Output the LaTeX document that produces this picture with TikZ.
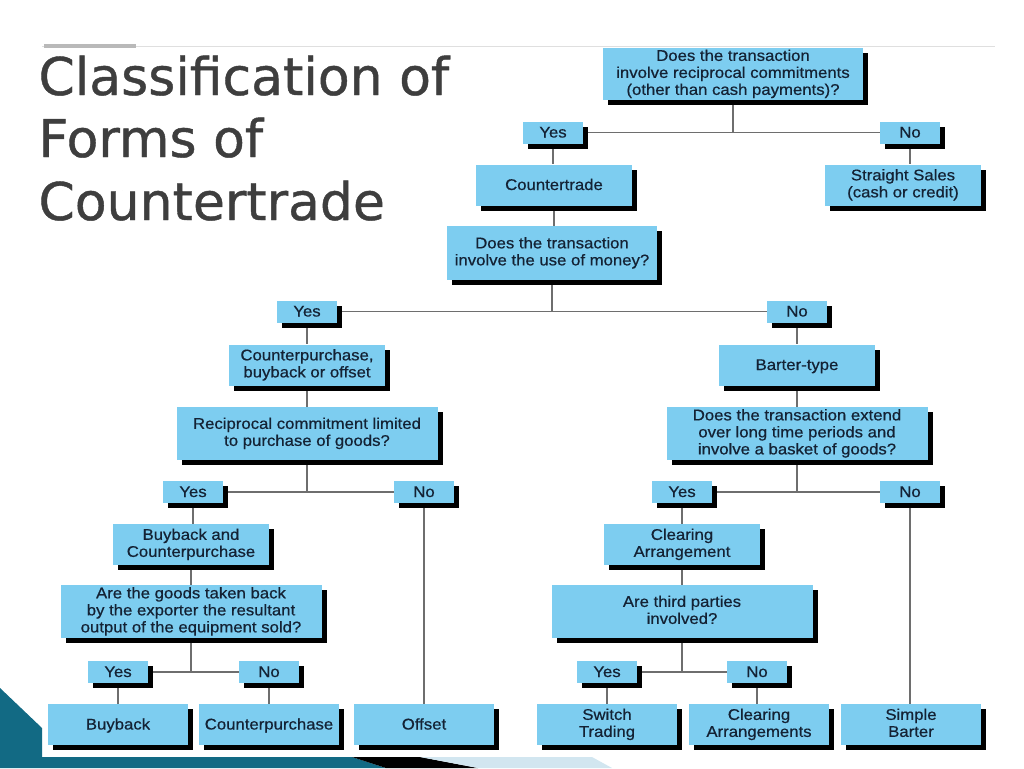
\documentclass[tikz,border=0pt]{standalone}
\usepackage{fontspec}
\setmainfont{Liberation Sans}
\newfontfamily\boxfont{Liberation Sans}[FakeStretch=1.08, FakeBold=0.6]
\newfontfamily\titlefont{DejaVu Sans}[FakeBold=0.8]
\usetikzlibrary{shadows,backgrounds}
\definecolor{boxblue}{RGB}{125,205,240}
\definecolor{boxtext}{RGB}{20,34,52}
\definecolor{linkgray}{RGB}{110,110,110}
\definecolor{titlegray}{RGB}{62,62,62}
\definecolor{themeteal}{RGB}{18,106,132}
\definecolor{paleblue}{RGB}{210,230,240}
\begin{document}
\begin{tikzpicture}[x=1pt,y=-1pt,
  qbox/.style={fill=boxblue, text=boxtext, align=center, inner sep=0pt,
    font=\boxfont\fontsize{15.5}{17}\selectfont,
    execute at begin node=\rule{0pt}{13.5pt}, execute at end node=\rule[-3.5pt]{0pt}{3.5pt},
    drop shadow={shadow xshift=5pt, shadow yshift=-5pt, fill=black, opacity=1}},
  ans/.style={qbox, minimum width=60pt, minimum height=22pt},
  mid/.style={qbox, minimum width=156pt, minimum height=41pt},
  big/.style={qbox, minimum width=261pt, minimum height=53pt},
  leaf/.style={qbox, minimum width=140pt, minimum height=41pt},
  title/.style={anchor=base west, text=titlegray, font=\titlefont\fontsize{52}{63}\selectfont},
  link/.style={draw=linkgray, line width=1.4pt}]
\useasboundingbox (0,0) rectangle (1024,768);

% slide frame
\draw[gray!25, line width=1pt] (42,47) -- (995,47);
\fill[gray!55] (44,44) rectangle (136,48);
\fill[themeteal] (0,688) -- (42,728) -- (42,757) -- (352,757) -- (386,768) -- (0,768) -- cycle;
\fill[black] (352,757) -- (420,757) -- (478,768) -- (386,768) -- cycle;
\fill[paleblue] (420,757) -- (592,757) -- (612,768) -- (478,768) -- cycle;

% title
\node[title] (t1) at (35,95) {Classification of};
\node[title] (t2) at (35,157) {Forms of};
\node[title] (t3) at (35,220) {Countertrade};

% questions and answers
\node[qbox, minimum width=260pt, minimum height=52pt] (q1) at (733,74) {Does the transaction\\involve reciprocal commitments\\(other than cash payments)?};
\node[ans] (yes1) at (553,132.5) {Yes};
\node[ans] (no1) at (910,132.5) {No};
\node[mid] (ct) at (554,185) {Countertrade};
\node[mid] (ss) at (903,185) {Straight Sales\\(cash or credit)};
\node[qbox, minimum width=210pt, minimum height=54pt] (q2) at (552,253) {Does the transaction\\involve the use of money?};
\node[ans] (yes2) at (307,311.5) {Yes};
\node[ans] (no2) at (797,311.5) {No};
\node[mid] (cbo) at (307,365) {Counterpurchase,\\buyback or offset};
\node[mid] (bt) at (797,365) {Barter-type};
\node[big] (q3) at (307,433.5) {Reciprocal commitment limited\\to purchase of goods?};
\node[big] (q4) at (797,433.5) {Does the transaction extend\\over long time periods and\\involve a basket of goods?};
\node[ans] (yes3) at (193,492) {Yes};
\node[ans] (no3) at (424,492) {No};
\node[ans] (yes4) at (682,492) {Yes};
\node[ans] (no4) at (910,492) {No};
\node[mid] (bc) at (191,544.5) {Buyback and\\Counterpurchase};
\node[mid] (ca) at (682,544.5) {Clearing\\Arrangement};
\node[big] (q5) at (191,611.5) {Are the goods taken back\\by the exporter the resultant\\output of the equipment sold?};
\node[big] (q6) at (682,611.5) {Are third parties\\involved?};
\node[ans] (yes5) at (118,672) {Yes};
\node[ans] (no5) at (269,672) {No};
\node[ans] (yes6) at (607,672) {Yes};
\node[ans] (no6) at (757,672) {No};

% forms of countertrade
\foreach \n/\x/\t in {bb/118/Buyback, cp/269/Counterpurchase, of/424/Offset,
  st/607/{Switch\\Trading}, cas/759/{Clearing\\Arrangements}, sb/911/{Simple\\Barter}}
  \node[leaf] (\n) at (\x,724.5) {\t};

\begin{scope}[on background layer]
\foreach \q/\y/\n in {q1/yes1/no1, q2/yes2/no2, q3/yes3/no3, q4/yes4/no4, q5/yes5/no5, q6/yes6/no6} {
  \draw[link] (\q.south) -- (\q.south |- \y.center);
  \draw[link] (\y) -- (\n);
}
\foreach \a/\b in {yes1/ct, no1/ss, ct/q2, yes2/cbo, no2/bt, cbo/q3, bt/q4, yes3/bc, no3/of,
  yes4/ca, no4/sb, bc/q5, ca/q6, yes5/bb, no5/cp, yes6/st, no6/cas}
  \draw[link] (\a.south) -- (\a.south |- \b.north);
\end{scope}
\end{tikzpicture}
\end{document}
